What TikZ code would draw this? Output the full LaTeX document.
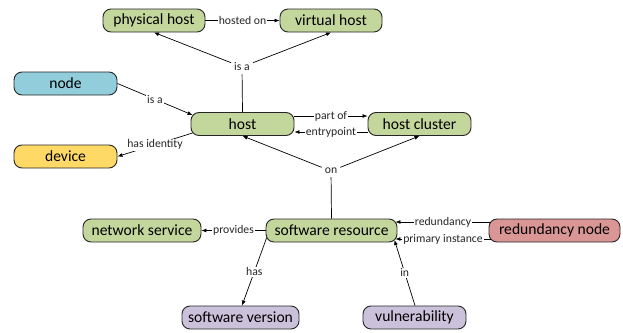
\documentclass[tikz,border=0pt]{standalone}
\usepackage{fontspec}
\setmainfont{Carlito}
\usetikzlibrary{calc,arrows.meta}
\definecolor{gr}{HTML}{C3D69B}
\definecolor{bl}{HTML}{92CDDC}
\definecolor{ye}{HTML}{FFD966}
\definecolor{rd}{HTML}{D99694}
\definecolor{pu}{HTML}{CCC1DA}
\begin{document}
\begin{tikzpicture}[x=1pt,y=-1pt,
 box/.style={draw=black!85, line width=0.9pt, rounded corners=8pt, minimum height=23pt, inner sep=0pt, font=\fontsize{15.6}{16}\selectfont},
 lbl/.style={fill=white, inner sep=1pt, font=\fontsize{11.7}{12}\selectfont, text=black!85},
 arr/.style={-{Latex[length=5pt,width=4pt]}, line width=0.7pt},
 ln/.style={line width=0.7pt}]
\useasboundingbox (0,0) rectangle (623,332);
\node[box,fill=gr,minimum width=102pt] (ph) at (154,20.5) {physical host};
\node[box,fill=gr,minimum width=102pt] (vh) at (331,20.5) {virtual host};
\node[box,fill=bl,minimum width=103pt] (nd) at (65.5,83.5) {node};
\node[box,fill=gr,minimum width=103pt] (host) at (242.5,124) {host};
\node[box,fill=gr,minimum width=103pt] (hc) at (419.5,124) {host cluster};
\node[box,fill=ye,minimum width=103pt] (dev) at (65.5,156.5) {device};
\node[box,fill=gr,minimum width=118pt] (ns) at (142,230.5) {network service};
\node[box,fill=gr,minimum width=131pt] (sr) at (331.5,230.5) {software resource};
\node[box,fill=rd,minimum width=131pt] (rn) at (554.5,230.5) {redundancy node};
\node[box,fill=pu,minimum width=117pt] (sv) at (240.5,317.5) {software version};
\node[box,fill=pu,minimum width=103pt] (vul) at (414.5,317.5) {vulnerability};

% junction labels
\node[lbl,inner sep=3pt] (isa) at (242,67) {is a};
\node[lbl,inner sep=3pt] (on) at (331,171) {on};

\draw[arr] (ph.east) -- node[lbl] {hosted on} (vh.west);
\draw[ln] (host.north) -- (isa);
\draw[arr] (isa) -- (ph.south);
\draw[arr] (isa) -- (vh.south);
\draw[arr] (nd.east) -- node[lbl] {is a} ($(host.west)+(2,-9)$);
\draw[arr] ($(host.west)+(2,9)$) -- node[lbl] {has identity} (dev.east);
\draw[arr] ($(host.east)+(0,-8)$) -- node[lbl] {part of} ($(hc.west)+(0,-8)$);
\draw[arr] ($(hc.west)+(0,8)$) -- node[lbl] {entrypoint} ($(host.east)+(0,8)$);
\draw[ln] (sr.north) -- (on);
\draw[arr] (on) -- (host.south);
\draw[arr] (on) -- (hc.south);
\draw[arr] (sr.west) -- node[lbl] {provides} (ns.east);
\draw[arr] ($(sr.west)+(1,7.5)$) -- node[lbl] {has} ($(sv.north)+(1.5,0)$);
\draw[arr] ($(rn.west)+(2,-8.5)$) -- node[lbl] {redundancy} ($(sr.east)+(-2,-8.5)$);
\draw[arr] ($(rn.west)+(2,8.5)$) -- node[lbl] {primary instance} ($(sr.east)+(-2,8.5)$);
\draw[arr] ($(vul.north)+(0.5,0)$) -- node[lbl] {in} ($(sr.east)+(-3,9.5)$);
\end{tikzpicture}
\end{document}
